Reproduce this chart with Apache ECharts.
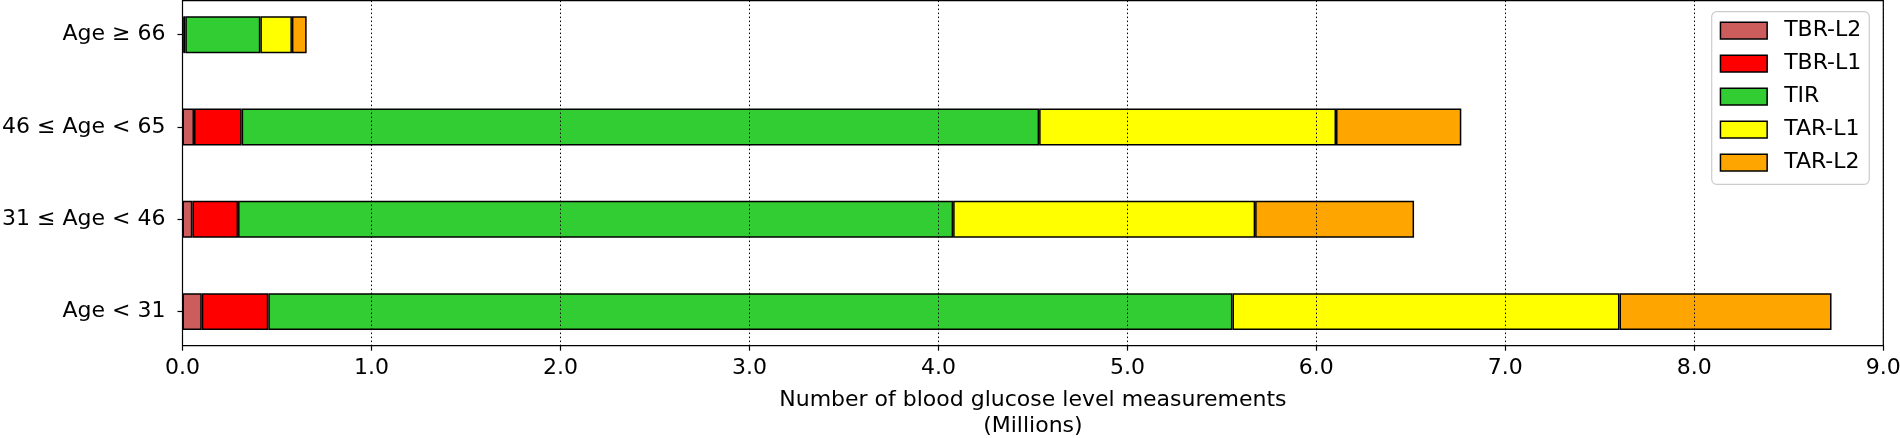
<!DOCTYPE html>
<html>
<head>
<meta charset="utf-8">
<script src="https://cdn.jsdelivr.net/npm/echarts@6/dist/echarts.min.js"></script>
<style>
html,body{margin:0;padding:0;background:#fff;}
#c{width:1900px;height:438px;}
</style>
</head>
<body>
<div id="c"></div>
<script>
// Categories listed bottom-to-top (ECharts category y-axis order)
const categories = ['Age < 31', '31 \u2264 Age < 46', '46 \u2264 Age < 65', 'Age \u2265 66'];
const seriesNames = ['TBR-L2', 'TBR-L1', 'TIR', 'TAR-L1', 'TAR-L2'];
const tbrL2 = [0.102, 0.052, 0.061, 0.005];
const tbrL1 = [0.352, 0.242, 0.252, 0.010];
const tir   = [5.102, 3.784, 4.220, 0.397];
const tarL1 = [2.048, 1.598, 1.571, 0.167];
const tarL2 = [1.122, 0.841, 0.663, 0.078];
const xTicks = [0, 1, 2, 3, 4, 5, 6, 7, 8, 9];
const colors = ['#CD5C5C', '#FF0000', '#32CD32', '#FFFF00', '#FFA500'];
const values = [tbrL2, tbrL1, tir, tarL1, tarL2];

const FONT = 'DejaVu Sans';
const chart = echarts.init(document.getElementById('c'), null, {renderer: 'canvas'});

const plotLeft = 182.5, plotWidth = 1700.8, plotTop = 0.6, plotHeight = 345.1;
const band = 92.3;

const option = {
  animation: false,
  backgroundColor: '#fff',
  textStyle: {fontFamily: FONT},
  grid: [
    {left: plotLeft, top: plotTop, width: plotWidth, height: plotHeight,
     outerBoundsMode: 'none',
     show: true, borderColor: '#000', borderWidth: 1.2, backgroundColor: 'transparent', containLabel: false},
    {left: plotLeft, top: 34.7 - band / 2, width: plotWidth, height: band * 4,
     outerBoundsMode: 'none', containLabel: false}
  ],
  xAxis: [
    {type: 'value', gridIndex: 0, min: xTicks[0], max: xTicks[xTicks.length - 1], interval: 1, z: 10,
     axisLine: {show: true, lineStyle: {color: '#000', width: 1.2}},
     axisTick: {show: true, length: 5, lineStyle: {color: '#000', width: 1.2}},
     axisLabel: {color: '#000', fontSize: 22, fontFamily: FONT, margin: 12,
                 formatter: v => v.toFixed(1)},
     splitLine: {show: true, lineStyle: {color: '#000', width: 1, type: [1.5, 2.5]}},
     name: 'Number of blood glucose level measurements\n(Millions)',
     nameLocation: 'middle', nameGap: 42,
     nameTextStyle: {color: '#000', fontSize: 22, fontFamily: FONT, lineHeight: 25.6}
    },
    {type: 'value', gridIndex: 1, min: 0, max: 9, show: false}
  ],
  yAxis: [
    {type: 'value', gridIndex: 0, show: false, min: 0, max: 1},
    {type: 'category', gridIndex: 1, data: categories,
     axisLine: {show: false},
     axisTick: {show: true, alignWithLabel: true, length: 5, lineStyle: {color: '#000', width: 1.2}},
     axisLabel: {color: '#000', fontSize: 22, fontFamily: FONT, margin: 17},
     splitLine: {show: false}
    }
  ],
  legend: {
    orient: 'vertical',
    left: 1711.7, top: 11.7,
    width: 161,
    padding: [8, 8, 10.6, 8],
    itemWidth: 46.7, itemHeight: 16.7, itemGap: 11,
    icon: 'rect',
    borderColor: '#cccccc', borderWidth: 1.2, borderRadius: 5,
    backgroundColor: 'rgba(255,255,255,0.8)',
    itemStyle: {borderColor: '#000', borderWidth: 1.5},
    textStyle: {color: '#000', fontSize: 22, fontFamily: FONT, lineHeight: 22, padding: [0, 0, 0, 12]},
    data: seriesNames
  },
  series: seriesNames.map((name, i) => ({
    name: name,
    type: 'bar',
    stack: 'total',
    xAxisIndex: 1,
    yAxisIndex: 1,
    barWidth: '40%',
    itemStyle: {color: colors[i], borderColor: '#000', borderWidth: 1.5},
    data: values[i]
  }))
};
chart.setOption(option);
</script>
</body>
</html>
